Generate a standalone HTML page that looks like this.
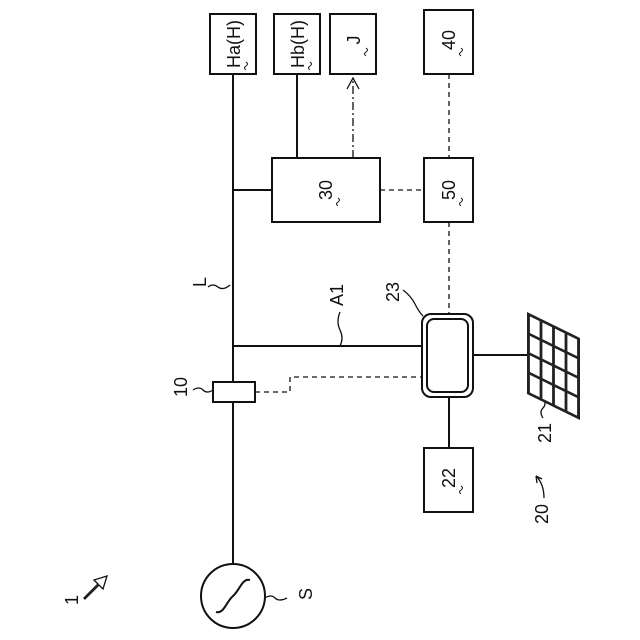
<!DOCTYPE html>
<html><head><style>html,body{margin:0;padding:0;background:#fff}svg{display:block}text{font-family:"Liberation Sans",sans-serif;font-size:18px;fill:#111}</style></head>
<body>
<svg width="640" height="640" viewBox="0 0 640 640" xmlns="http://www.w3.org/2000/svg">
<g stroke="#111" stroke-width="2" fill="none">
<line x1="233" y1="74" x2="233" y2="382"/>
<line x1="233" y1="402" x2="233" y2="564"/>
<circle cx="233" cy="596" r="32"/>
<path d="M216 612 C224 614 226 602 233 596 C240 590 242 578 250 580"/>
<rect x="210" y="14" width="46" height="60"/>
<rect x="274" y="14" width="46" height="60"/>
<rect x="330" y="14" width="46" height="60"/>
<rect x="424" y="10" width="49" height="64"/>
<rect x="272" y="158" width="108" height="64"/>
<rect x="424" y="158" width="49" height="64"/>
<line x1="297" y1="74" x2="297" y2="158"/>
<line x1="233" y1="190" x2="272" y2="190"/>
<rect x="213" y="382" width="42" height="20"/>
<line x1="233" y1="346" x2="422" y2="346"/>
<rect x="422" y="314" width="51" height="83" rx="9"/>
<rect x="427" y="319" width="41" height="73" rx="7"/>
<line x1="473" y1="355" x2="527" y2="355"/>
<line x1="449" y1="397" x2="449" y2="448"/>
<rect x="424" y="448" width="49" height="64"/>
</g>
<g stroke="#111" stroke-width="1.3" fill="none" stroke-dasharray="5,4">
<line x1="449" y1="74" x2="449" y2="158"/>
<line x1="449" y1="222" x2="449" y2="314"/>
<line x1="380" y1="190" x2="424" y2="190"/>
<path d="M255 392 H290 V377 H422"/>
</g>
<g stroke="#111" stroke-width="1.3" fill="none">
<line x1="353" y1="158" x2="353" y2="78" stroke-dasharray="8,3,2,3"/>
<path d="M347 89 L353 78 L359 89"/>
<path d="M208 287 q5 -4 10 0 t12 -2"/>
<path d="M340 312 q-4 10 0 18 t0 16"/>
<path d="M403 290 q8 6 12 14 t8 12"/>
<path d="M193 390 q6 -4 10 0 t10 0"/>
<path d="M265 598 q6 -4 10 0 t12 0"/>
<path d="M543 418 q-4 -6 0 -10 t0 -12"/>
<path d="M544 498 q0 -14 -8 -22"/>
<path d="M536 476 l1 7 M536 476 l6 3"/>
<path d="M84 598 l14 -14 l-4 -4 l13 -4 l-4 13 l-4 -4 l-14 14 z"/>
</g>
<g transform="matrix(1,0.49,0,1,527,312)">
<rect x="0" y="0" width="53" height="82" fill="#222"/>
<g fill="#fff" stroke="#222" stroke-width="0.8">
<rect x="2.5" y="2.5" width="10.5" height="17.5"/><rect x="15" y="2.5" width="10.5" height="17.5"/><rect x="27.5" y="2.5" width="10.5" height="17.5"/><rect x="40" y="2.5" width="10.5" height="17.5"/>
<rect x="2.5" y="22" width="10.5" height="17.5"/><rect x="15" y="22" width="10.5" height="17.5"/><rect x="27.5" y="22" width="10.5" height="17.5"/><rect x="40" y="22" width="10.5" height="17.5"/>
<rect x="2.5" y="41.5" width="10.5" height="17.5"/><rect x="15" y="41.5" width="10.5" height="17.5"/><rect x="27.5" y="41.5" width="10.5" height="17.5"/><rect x="40" y="41.5" width="10.5" height="17.5"/>
<rect x="2.5" y="61" width="10.5" height="18.5"/><rect x="15" y="61" width="10.5" height="18.5"/><rect x="27.5" y="61" width="10.5" height="18.5"/><rect x="40" y="61" width="10.5" height="18.5"/>
</g>
</g>
<g text-anchor="middle">
<text transform="translate(240,44) rotate(-90)">Ha(H)</text>
<text transform="translate(304,44) rotate(-90)">Hb(H)</text>
<text transform="translate(360,40) rotate(-90)">J</text>
<text transform="translate(455,40) rotate(-90)">40</text>
<text transform="translate(332,190) rotate(-90)">30</text>
<text transform="translate(455,190) rotate(-90)">50</text>
<text transform="translate(455,478) rotate(-90)">22</text>
<text transform="translate(206,282) rotate(-90)">L</text>
<text transform="translate(343,295) rotate(-90)">A1</text>
<text transform="translate(399,292) rotate(-90)">23</text>
<text transform="translate(187,387) rotate(-90)">10</text>
<text transform="translate(312,594) rotate(-90)">S</text>
<text transform="translate(551,433) rotate(-90)">21</text>
<text transform="translate(548,514) rotate(-90)">20</text>
<text transform="translate(78,600) rotate(-90)">1</text>
</g>
<g stroke="#111" stroke-width="1" fill="none">
<path d="M338 198 q3 2 0 4 t0 4"/><path d="M461 198 q3 2 0 4 t0 4"/><path d="M461 486 q3 2 0 4 t0 4"/>
<path d="M461 48 q3 2 0 4 t0 4"/><path d="M366 48 q3 2 0 4 t0 4"/><path d="M310 62 q3 2 0 4 t0 4"/><path d="M246 62 q3 2 0 4 t0 4"/>
</g>
</svg>
</body></html>
